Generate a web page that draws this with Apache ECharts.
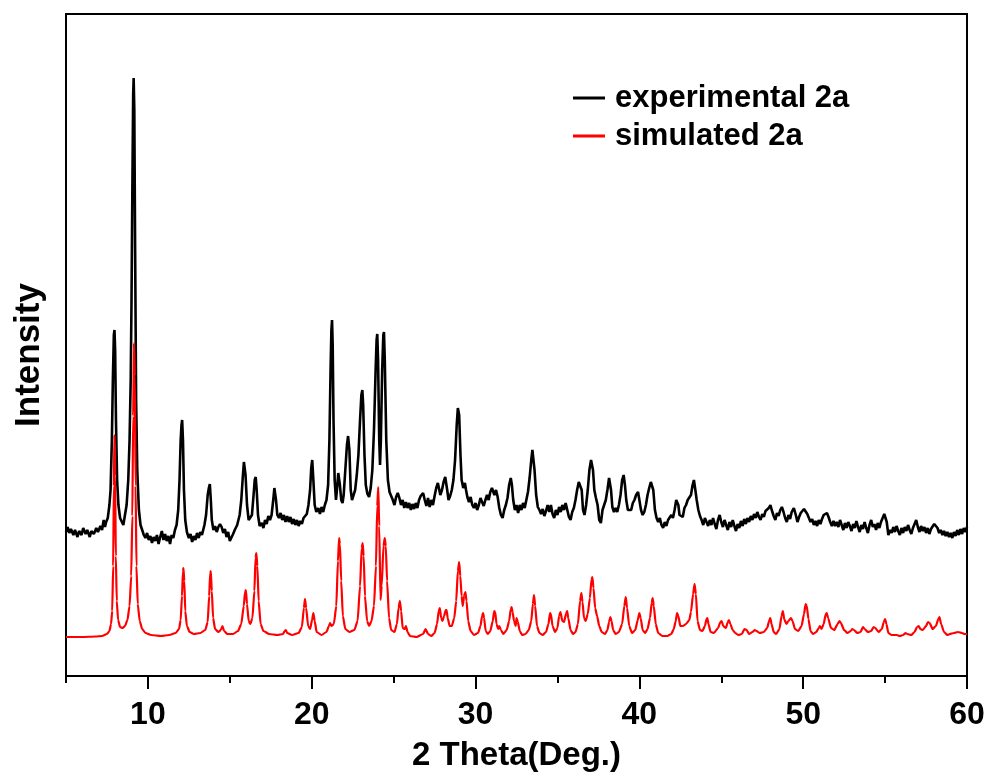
<!DOCTYPE html>
<html>
<head>
<meta charset="utf-8">
<script src="https://cdn.jsdelivr.net/npm/echarts@6/dist/echarts.min.js"></script>
<style>
html,body{margin:0;padding:0;background:#fff;}
#chart{width:992px;height:778px;}
</style>
</head>
<body>
<div id="chart"></div>
<script>
// ---- data (2θ in degrees, intensity in arbitrary units) ----
var seriesNames = ['experimental 2a', 'simulated 2a'];
var xMajorTicks = [10, 20, 30, 40, 50, 60];
var xMinorTicks = [5, 15, 25, 35, 45, 55];

var experimental2a = [
[5.0,144],[5.1,149],[5.2,143],[5.3,147],[5.45,141],[5.55,146],[5.7,139],[5.8,145],[5.95,141],[6.05,148],
[6.2,142],[6.3,146],[6.45,139],[6.55,145],[6.7,142],[6.85,148],[6.95,144],[7.1,150],[7.2,146],[7.3,156],
[7.38,149],[7.45,154],[7.55,158],[7.65,171],[7.72,186],[7.8,236],[7.86,296],[7.92,341],[7.96,346],[8.0,326],
[8.05,256],[8.12,196],[8.2,171],[8.3,158],[8.4,156],[8.5,151],[8.6,161],[8.7,171],[8.8,196],[8.88,236],
[8.95,296],[9.0,376],[9.05,486],[9.1,581],[9.13,598],[9.17,566],[9.22,426],[9.28,276],[9.35,206],[9.45,166],
[9.55,151],[9.65,146],[9.75,141],[9.85,138],[9.95,143],[10.05,136],[10.15,140],[10.25,133],[10.35,139],[10.45,135],
[10.55,141],[10.65,132],[10.75,139],[10.85,145],[10.95,136],[11.05,142],[11.15,135],[11.25,140],[11.35,132],[11.45,141],
[11.55,138],[11.65,146],[11.75,151],[11.85,166],[11.93,196],[12.0,236],[12.05,251],[12.09,256],[12.14,236],[12.2,186],
[12.28,156],[12.38,144],[12.5,138],[12.6,142],[12.7,134],[12.8,140],[12.9,136],[13.0,143],[13.1,138],[13.2,144],
[13.3,141],[13.45,151],[13.55,161],[13.65,181],[13.72,188],[13.78,192],[13.84,176],[13.9,156],[14.0,146],[14.1,150],
[14.2,144],[14.3,149],[14.4,152],[14.5,149],[14.6,143],[14.7,147],[14.8,139],[14.9,144],[15.0,135],[15.1,133],
[15.2,142],[15.3,146],[15.45,151],[15.6,161],[15.7,176],[15.8,201],[15.86,214],[15.9,216],[15.96,201],[16.05,171],
[16.15,156],[16.25,154],[16.35,161],[16.45,181],[16.52,196],[16.58,199],[16.64,186],[16.72,161],[16.82,150],[16.95,153],
[17.05,148],[17.15,156],[17.25,152],[17.35,160],[17.45,156],[17.55,161],[17.65,176],[17.72,188],[17.76,189],[17.82,176],
[17.9,161],[18.0,158],[18.1,163],[18.2,156],[18.3,161],[18.4,154],[18.5,160],[18.6,154],[18.7,159],[18.8,152],
[18.9,157],[19.0,151],[19.1,156],[19.2,150],[19.3,155],[19.4,152],[19.5,158],[19.6,156],[19.7,162],[19.8,171],
[19.9,186],[19.97,208],[20.03,216],[20.1,196],[20.18,171],[20.28,164],[20.4,168],[20.5,162],[20.6,169],[20.7,164],
[20.8,171],[20.9,176],[21.0,191],[21.08,236],[21.15,306],[21.2,346],[21.24,356],[21.28,331],[21.33,256],[21.4,196],
[21.48,176],[21.55,188],[21.62,203],[21.67,204],[21.72,191],[21.8,176],[21.88,173],[21.95,181],[22.05,206],[22.15,231],
[22.22,240],[22.26,241],[22.3,226],[22.38,186],[22.46,176],[22.55,178],[22.65,186],[22.75,201],[22.85,221],[22.95,256],
[23.03,281],[23.09,286],[23.14,271],[23.22,221],[23.3,191],[23.4,182],[23.5,179],[23.6,188],[23.7,206],[23.8,246],
[23.9,306],[23.96,336],[24.0,342],[24.05,316],[24.12,236],[24.17,211],[24.22,236],[24.3,306],[24.37,341],[24.41,344],
[24.46,316],[24.55,236],[24.65,196],[24.75,184],[24.85,180],[24.95,176],[25.05,171],[25.15,179],[25.25,183],[25.35,178],
[25.45,171],[25.55,176],[25.65,168],[25.75,174],[25.85,168],[25.95,173],[26.05,166],[26.15,172],[26.25,167],[26.35,173],
[26.45,168],[26.55,176],[26.65,180],[26.8,183],[26.9,176],[27.0,170],[27.1,178],[27.2,169],[27.3,176],[27.4,171],
[27.5,180],[27.6,188],[27.7,193],[27.76,194],[27.85,181],[27.95,186],[28.05,194],[28.15,199],[28.2,199],[28.27,186],
[28.35,176],[28.45,180],[28.55,186],[28.65,196],[28.75,216],[28.85,251],[28.92,268],[28.96,270],[29.0,261],[29.08,221],
[29.15,196],[29.25,188],[29.35,193],[29.42,186],[29.5,179],[29.6,174],[29.7,179],[29.8,171],[29.9,168],[30.0,173],
[30.1,166],[30.2,171],[30.3,178],[30.4,174],[30.5,170],[30.6,176],[30.7,181],[30.8,176],[30.9,184],[31.0,188],
[31.07,189],[31.15,181],[31.25,186],[31.35,179],[31.45,168],[31.55,161],[31.65,158],[31.75,166],[31.85,171],[31.95,178],
[32.05,191],[32.15,198],[32.22,191],[32.3,176],[32.4,166],[32.5,171],[32.6,163],[32.7,171],[32.8,166],[32.9,173],
[33.0,168],[33.1,176],[33.2,184],[33.3,198],[33.4,216],[33.47,226],[33.53,224],[33.6,206],[33.7,181],[33.8,169],
[33.9,166],[34.0,162],[34.1,167],[34.2,160],[34.3,165],[34.4,171],[34.5,164],[34.6,171],[34.7,162],[34.8,158],
[34.9,166],[35.0,161],[35.1,169],[35.2,164],[35.3,171],[35.4,166],[35.5,173],[35.6,166],[35.7,159],[35.8,156],
[35.9,164],[36.0,168],[36.1,176],[36.2,186],[36.3,194],[36.4,196],[36.48,186],[36.56,166],[36.65,161],[36.75,171],
[36.85,186],[36.95,206],[37.05,216],[37.1,217],[37.17,206],[37.25,186],[37.35,178],[37.45,171],[37.55,156],[37.65,153],
[37.75,166],[37.85,171],[37.95,176],[38.05,186],[38.15,198],[38.2,199],[38.27,186],[38.35,169],[38.45,164],[38.55,168],
[38.65,164],[38.75,171],[38.85,181],[38.95,196],[39.04,201],[39.12,191],[39.2,176],[39.3,166],[39.4,168],[39.5,166],
[39.6,173],[39.7,176],[39.8,181],[39.92,184],[40.0,176],[40.1,166],[40.2,161],[40.3,164],[40.4,171],[40.5,181],
[40.6,188],[40.7,194],[40.77,195],[40.85,186],[40.95,166],[41.05,158],[41.15,154],[41.25,158],[41.35,151],[41.45,148],
[41.55,154],[41.65,150],[41.75,156],[41.85,158],[41.95,161],[42.05,158],[42.15,166],[42.25,176],[42.3,178],[42.38,171],
[42.45,161],[42.55,163],[42.65,159],[42.75,168],[42.85,171],[42.95,176],[43.05,174],[43.15,181],[43.25,191],[43.33,196],
[43.4,188],[43.5,176],[43.6,166],[43.7,160],[43.8,156],[43.9,151],[44.0,158],[44.1,154],[44.2,150],[44.3,156],
[44.4,151],[44.5,158],[44.6,152],[44.7,147],[44.8,156],[44.9,161],[45.0,154],[45.1,149],[45.2,156],[45.3,151],
[45.4,146],[45.5,154],[45.6,149],[45.7,156],[45.8,150],[45.9,145],[46.0,152],[46.1,148],[46.2,155],[46.3,150],
[46.4,157],[46.5,152],[46.6,158],[46.7,154],[46.8,160],[46.9,156],[47.0,162],[47.1,158],[47.2,164],[47.3,159],
[47.4,156],[47.5,162],[47.6,159],[47.7,165],[47.8,163],[47.9,168],[48.0,171],[48.08,166],[48.2,160],[48.3,156],
[48.4,163],[48.5,160],[48.6,166],[48.7,169],[48.8,164],[48.9,158],[49.0,154],[49.1,161],[49.2,157],[49.3,164],
[49.43,168],[49.55,161],[49.65,154],[49.75,159],[49.85,163],[49.95,165],[50.05,167],[50.15,166],[50.25,162],[50.35,158],
[50.45,154],[50.55,157],[50.65,151],[50.75,155],[50.85,150],[50.95,156],[51.05,152],[51.15,157],[51.25,161],[51.35,160],
[51.45,163],[51.55,159],[51.65,154],[51.75,150],[51.85,155],[51.95,150],[52.05,154],[52.15,149],[52.25,156],[52.35,151],
[52.45,146],[52.55,153],[52.65,148],[52.75,154],[52.85,150],[52.95,145],[53.05,152],[53.15,148],[53.25,155],[53.35,149],
[53.45,144],[53.55,151],[53.65,147],[53.75,154],[53.85,148],[53.95,143],[54.05,151],[54.15,156],[54.25,149],[54.35,152],
[54.45,146],[54.55,153],[54.65,148],[54.75,154],[54.85,158],[54.95,162],[55.02,163],[55.1,154],[55.2,141],[55.3,146],
[55.4,143],[55.5,149],[55.6,144],[55.7,150],[55.8,145],[55.9,141],[56.0,148],[56.1,143],[56.2,149],[56.3,145],
[56.4,151],[56.5,146],[56.6,142],[56.7,148],[56.8,152],[56.9,156],[57.0,149],[57.1,144],[57.2,150],[57.3,145],
[57.4,149],[57.5,143],[57.6,148],[57.7,142],[57.8,147],[57.9,149],[58.0,152],[58.1,154],[58.2,148],[58.3,143],
[58.4,146],[58.5,141],[58.6,145],[58.7,140],[58.8,144],[58.9,139],[59.0,143],[59.1,138],[59.2,144],[59.3,140],
[59.4,146],[59.5,141],[59.6,147],[59.7,142],[59.8,148],[59.9,144],[60.0,149]
];

var simulated2a = [
[5.0,39],[6.0,39],[6.8,39.5],[7.2,40],[7.5,42],[7.65,45],[7.75,52],[7.82,65],[7.88,110],[7.92,190],
[7.96,241],[8.0,200],[8.04,120],[8.1,75],[8.18,56],[8.3,49],[8.45,48],[8.6,50],[8.75,56],[8.88,70],
[8.98,100],[9.05,160],[9.1,260],[9.15,333],[9.2,300],[9.25,190],[9.3,110],[9.38,72],[9.5,55],[9.65,47],
[9.85,43],[10.2,41],[10.8,40],[11.3,41],[11.7,43],[11.9,47],[12.0,56],[12.08,80],[12.14,105],[12.17,108],
[12.22,95],[12.28,65],[12.38,50],[12.55,44],[12.8,42],[13.2,43],[13.5,46],[13.65,54],[13.74,80],[13.8,103],
[13.84,105],[13.9,85],[13.98,58],[14.1,47],[14.3,44],[14.45,46],[14.55,50],[14.65,45],[14.85,42],[15.2,42],
[15.5,45],[15.7,52],[15.85,70],[15.93,84],[15.98,86],[16.05,72],[16.15,55],[16.25,52],[16.38,58],[16.5,85],
[16.57,118],[16.62,123],[16.68,110],[16.76,75],[16.88,52],[17.05,45],[17.4,42],[17.9,41],[18.25,42],[18.35,45],
[18.42,46],[18.5,43],[18.8,41],[19.2,43],[19.4,49],[19.52,68],[19.59,77],[19.66,68],[19.78,50],[19.9,47],
[20.02,56],[20.1,63],[20.18,55],[20.3,44],[20.6,41],[20.9,44],[21.05,50],[21.12,53],[21.2,50],[21.35,52],
[21.5,70],[21.6,115],[21.67,138],[21.72,132],[21.8,95],[21.9,60],[22.05,47],[22.3,44],[22.6,46],[22.8,55],
[22.95,90],[23.05,128],[23.11,133],[23.17,120],[23.25,80],[23.38,55],[23.5,50],[23.65,55],[23.8,70],[23.92,110],
[24.0,170],[24.06,189],[24.12,150],[24.2,76],[24.27,90],[24.38,130],[24.46,138],[24.52,130],[24.6,95],[24.72,58],
[24.85,46],[25.05,44],[25.2,52],[25.3,68],[25.38,75],[25.46,65],[25.55,48],[25.68,47],[25.75,50],[25.85,44],
[26.0,40],[26.4,39],[26.8,42],[26.95,47],[27.1,42],[27.3,40],[27.5,43],[27.65,52],[27.75,65],[27.82,68],
[27.9,58],[27.98,55],[28.08,60],[28.18,66],[28.23,66],[28.3,58],[28.42,50],[28.55,50],[28.7,58],[28.82,75],
[28.92,105],[29.0,114],[29.07,100],[29.15,80],[29.22,70],[29.3,80],[29.38,84],[29.45,75],[29.55,55],[29.7,45],
[29.9,41],[30.15,43],[30.3,50],[30.4,60],[30.46,63],[30.52,58],[30.62,45],[30.75,42],[30.9,45],[31.05,55],
[31.14,65],[31.2,64],[31.28,52],[31.38,47],[31.45,50],[31.55,46],[31.7,42],[31.9,46],[32.05,55],[32.15,67],
[32.2,69],[32.26,64],[32.35,55],[32.45,50],[32.5,58],[32.58,54],[32.7,45],[32.85,41],[33.05,42],[33.25,46],
[33.4,55],[33.5,72],[33.57,81],[33.64,70],[33.75,50],[33.9,43],[34.1,41],[34.3,44],[34.45,52],[34.55,63],
[34.6,62],[34.7,50],[34.85,44],[35.0,48],[35.1,60],[35.18,64],[35.3,55],[35.4,54],[35.52,62],[35.59,65],
[35.66,58],[35.8,46],[35.95,42],[36.1,44],[36.25,52],[36.38,75],[36.46,83],[36.53,74],[36.62,58],[36.72,55],
[36.85,62],[36.98,78],[37.08,97],[37.13,99],[37.2,88],[37.3,68],[37.42,60],[37.55,50],[37.7,44],[37.9,42],
[38.05,46],[38.15,54],[38.23,59],[38.3,55],[38.4,46],[38.55,42],[38.75,44],[38.95,52],[39.08,70],[39.17,79],
[39.25,68],[39.38,50],[39.55,43],[39.75,46],[39.9,56],[40.0,63],[40.08,58],[40.2,46],[40.35,43],[40.5,47],
[40.65,58],[40.75,73],[40.81,78],[40.88,70],[41.0,52],[41.15,43],[41.4,40],[41.7,40],[41.95,42],[42.1,47],
[42.22,55],[42.3,63],[42.38,60],[42.5,50],[42.65,50],[42.85,52],[43.05,56],[43.15,64],[43.28,82],[43.37,92],
[43.45,82],[43.55,55],[43.7,46],[43.85,45],[44.0,50],[44.1,57],[44.15,58],[44.22,52],[44.35,44],[44.55,43],
[44.8,48],[44.95,54],[45.02,55],[45.12,50],[45.28,48],[45.4,54],[45.47,56],[45.55,52],[45.7,46],[45.85,43],
[46.05,41],[46.25,42],[46.42,47],[46.55,46],[46.7,42],[46.9,44],[47.05,46],[47.15,45],[47.35,43],[47.6,44],
[47.8,48],[47.92,55],[47.99,58],[48.07,52],[48.2,44],[48.35,42],[48.55,47],[48.68,60],[48.76,65],[48.84,57],
[48.98,52],[49.1,55],[49.25,58],[49.35,55],[49.5,47],[49.7,45],[49.9,50],[50.05,62],[50.15,72],[50.22,70],
[50.32,57],[50.45,45],[50.6,42],[50.8,44],[50.95,48],[51.02,50],[51.12,47],[51.25,52],[51.38,62],[51.44,63],
[51.52,58],[51.7,48],[51.9,46],[52.1,52],[52.22,55],[52.3,53],[52.5,46],[52.7,43],[52.9,45],[53.0,47],
[53.1,46],[53.3,43],[53.5,44],[53.65,49],[53.75,47],[53.95,44],[54.15,45],[54.3,49],[54.4,48],[54.6,44],
[54.8,47],[54.92,54],[55.0,57],[55.08,52],[55.2,43],[55.4,41],[55.7,41],[55.9,40],[56.1,41],[56.25,43],
[56.35,42],[56.6,41],[56.8,44],[56.95,49],[57.05,50],[57.15,47],[57.3,46],[57.5,50],[57.62,54],[57.72,53],
[57.9,47],[58.1,50],[58.25,57],[58.32,59],[58.42,52],[58.6,44],[58.8,41],[58.95,42],[59.2,43],[59.45,44],
[59.7,43],[59.85,42],[60.0,42]
];

var FONT = '"Liberation Sans", Arial, sans-serif';
var chart = echarts.init(document.getElementById('chart'), null, {renderer: 'canvas'});
chart.setOption({
  animation: false,
  backgroundColor: '#fff',
  textStyle: {fontFamily: FONT},
  grid: {left: 66, right: 25, top: 14, bottom: 102, show: true, borderColor: '#000', borderWidth: 2, containLabel: false},
  legend: {
    data: seriesNames,
    orient: 'vertical',
    left: 573, top: 81,
    icon: 'rect',
    itemWidth: 32, itemHeight: 3,
    itemGap: 4,
    padding: 0,
    textStyle: {fontFamily: FONT, fontSize: 31, fontWeight: 'bold', color: '#000', lineHeight: 34, padding: [0,0,0,5]}
  },
  xAxis: [{
    type: 'value', min: 5, max: 60, position: 'bottom',
    name: '2 Theta(Deg.)', nameLocation: 'middle', nameGap: 63,
    nameTextStyle: {fontFamily: FONT, fontSize: 33, fontWeight: 'bold', color: '#000'},
    axisLine: {show: true, onZero: false, lineStyle: {color: '#000', width: 2}},
    axisTick: {show: true, customValues: xMajorTicks, length: 13, lineStyle: {color: '#000', width: 2}},
    axisLabel: {show: true, customValues: xMajorTicks, margin: 23, fontFamily: FONT, fontSize: 32, fontWeight: 'bold', color: '#000'},
    splitLine: {show: false}
  }, {
    type: 'value', min: 5, max: 60, position: 'bottom',
    axisLine: {show: false},
    axisTick: {show: true, customValues: xMinorTicks, length: 7, lineStyle: {color: '#000', width: 2}},
    axisLabel: {show: false},
    splitLine: {show: false}
  }],
  yAxis: {
    type: 'value', min: 0, max: 662,
    name: 'Intensity', nameLocation: 'middle', nameGap: 19, nameRotate: 90,
    nameTextStyle: {fontFamily: FONT, fontSize: 35, fontWeight: 'bold', color: '#000', padding: [0, 20, 0, 0]},
    axisLine: {show: true, onZero: false, lineStyle: {color: '#000', width: 2}},
    axisTick: {show: false}, axisLabel: {show: false}, splitLine: {show: false}
  },
  series: [{
    name: seriesNames[0], type: 'line', xAxisIndex: 0, data: experimental2a,
    showSymbol: false, symbol: 'none', color: '#000',
    lineStyle: {color: '#000', width: 2.6}, z: 3
  }, {
    name: seriesNames[1], type: 'line', xAxisIndex: 0, data: simulated2a,
    showSymbol: false, symbol: 'none', color: '#ff0000', smooth: 0.2, smoothMonotone: 'x',
    lineStyle: {color: '#ff0000', width: 2.2}, z: 4
  }]
});
</script>
</body>
</html>
